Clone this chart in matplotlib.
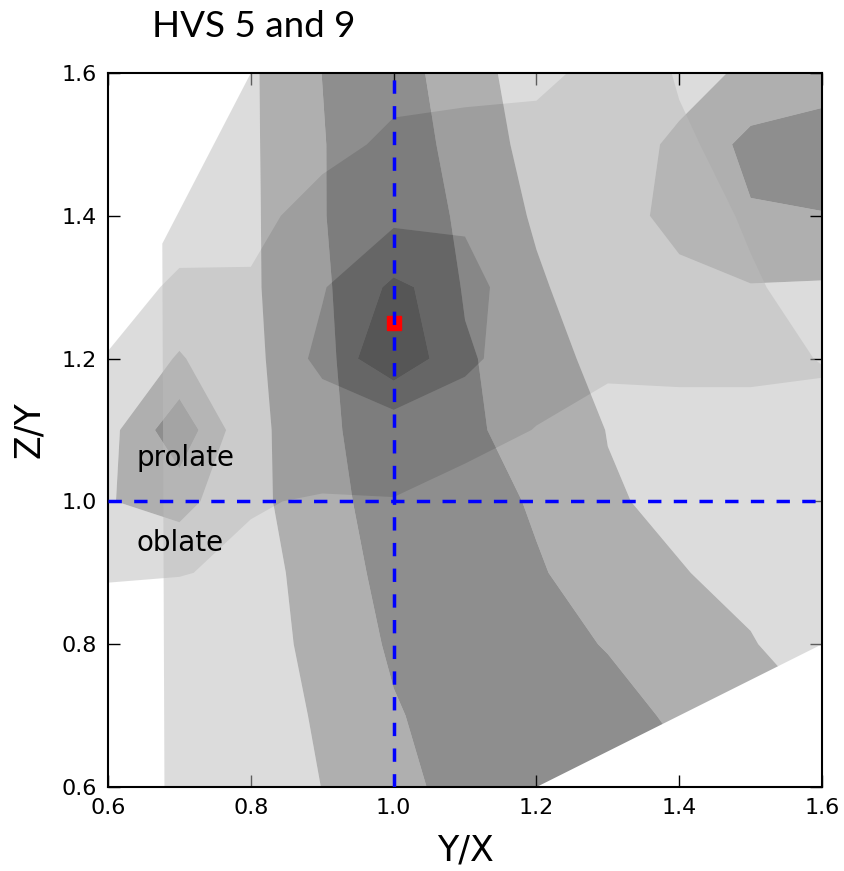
import numpy as np
import matplotlib.pyplot as plt
from matplotlib.patches import Polygon

plt.rcParams['lines.scale_dashes'] = False

# grid of the axis ratios
yx = np.round(np.arange(0.6, 1.61, 0.1), 2)
zy = np.round(np.arange(0.6, 1.61, 0.1), 2)

# HVS 5 density level, rows = Z/Y from 0.6 to 1.6, columns = Y/X from 0.6 to 1.6
hvs5 = np.array([
    [0.8, 0.9, 1.0, 1.51, 2.2, 2.85, 3.2, 3.1, 2.8, 2.3, 1.9],
    [0.8, 0.9, 1.1, 1.6, 2.4, 3.0, 3.2, 3.0, 2.27, 1.9, 1.5],
    [0.8, 0.9, 1.2, 1.7, 2.66, 3.1, 3.0, 2.42, 2.0, 1.56, 1.0],
    [0.8, 0.9, 1.25, 1.76, 2.95, 3.1, 2.6, 2.01, 1.55, 1.24, 1.0],
    [0.8, 0.9, 1.3, 1.945, 3.24, 3.0, 2.375, 1.6, 1.29, 1.1, 1.0],
    [0.8, 0.9, 1.2, 2.23, 3.19, 2.6, 2.28, 1.47, 1.2, 1.0, 0.9],
    [0.8, 0.9, 1.4, 1.88, 5.0, 2.7, 1.59, 1.43, 1.1, 0.8, 0.46],
    [0.8, 0.9, 1.4, 2.07, 5.14, 2.33, 1.6, 1.07, 0.85, 0.6, 0.15],
    [0.8, 0.9, 1.353, 2.4, 4.07, 2.08, 1.41, 1.1, 0.9, 0.39, 0.1],
    [0.8, 0.9, 1.36, 2.44, 3.5, 1.83, 1.31, 0.95, 0.6, 0.255, 0.0],
    [0.8, 1.0, 1.362, 2.51, 3.2, 1.61, 1.37, 1.0, 0.44, 0.2, 0.1],
])

# region covered by the HVS 5 sample
hull_x = [0.679, 0.676, 0.80, 1.6, 1.6, 1.2]
hull_y = [0.6, 1.361, 1.6, 1.6, 0.8, 0.6]

# HVS 9 density level, same layout
hvs9 = np.array([
    [0, 0, 0, 0, 0, 0, 0, 0, 0, 0, 0],
    [0, 0, 0, 0, 0, 0, 0, 0, 0, 0, 0],
    [0, 0, 0, 0, 0, 0, 0, 0, 0, 0, 0],
    [0.58, 0.53, 0.38, 0, 0, 0, 0, 0, 0, 0, 0],
    [1.45, 1.9, 0.54, 0.45, 0.48, 0.2, 0, 0, 0, 0, 0],
    [1.16, 3.2, 0.6, 0.9, 0.81, 0.766, 0.48, 0.2, 0.2, 0.2, 0.2],
    [0.56, 1.6, 0.55, 1.74, 3.26, 1.75, 0.8, 0.66, 0.7, 0.7, 0.61],
    [0, 0.685, 0.7, 1.424, 2.7, 2.0, 0.571, 1.0, 1.2, 1.45, 1.4],
    [0, 0, 0, 1.19, 1.257, 1.296, 0.8, 1.0, 1.85, 2.4, 2.45],
    [0, 0, 0, 0, 0.8, 0.8, 0.8, 1.1, 1.648, 2.8, 3.2],
    [0, 0, 0, 0, 0, 0.223, 0.31, 0.752, 1.2, 1.65, 1.83],
])

levels = [0.5, 1.5, 2.5, 100]
fill_colors = ['#bbbbbb', '#616161', '#1f1f1f']

best_yx = [1.0]
best_zy = [1.25]

fig = plt.figure(figsize=(8.44, 8.71), dpi=100)
ax = fig.add_axes([0.128, 0.0964, 0.846, 0.8198])

cs9 = ax.contourf(yx, zy, hvs9, levels=levels, colors=fill_colors, alpha=0.5,
                  antialiased=True, zorder=1)
cs5 = ax.contourf(yx, zy, hvs5, levels=levels, colors=fill_colors, alpha=0.5,
                  antialiased=True, zorder=2)
for cs in (cs9, cs5):
    cs.set_edgecolor('none')
    cs.set_linewidth(0)
hull = Polygon(np.column_stack([hull_x, hull_y]), closed=True,
               transform=ax.transData, facecolor='none', edgecolor='none')
cs5.set_clip_path(hull)

ax.plot(best_yx, best_zy, 's', color='red', mec='red', markersize=10, zorder=3)
ax.axvline(1.0, color='blue', lw=2.5, dashes=(9.6, 8.9), zorder=4)
ax.axhline(1.0, color='blue', lw=2.5, dashes=(9.6, 8.9), zorder=4)

ax.text(0.64, 1.05, 'prolate', fontsize=20, zorder=5)
ax.text(0.64, 0.93, 'oblate', fontsize=20, zorder=5)

ax.set_xlim(0.6, 1.6)
ax.set_ylim(0.6, 1.6)
ticks = [0.6, 0.8, 1.0, 1.2, 1.4, 1.6]
ax.set_xticks(ticks)
ax.set_yticks(ticks)
ax.set_xticklabels(['%.1f' % t for t in ticks])
ax.set_yticklabels(['%.1f' % t for t in ticks])
ax.tick_params(direction='in', length=8.5, width=1, top=True, right=True,
               labelsize=16, pad=8)
for s in ax.spines.values():
    s.set_linewidth(1.5)

ax.set_xlabel('Y/X', fontsize=25, labelpad=11)
ax.set_ylabel('Z/Y', fontsize=25, labelpad=11)

fig.text(0.18, 0.958, 'HVS 5 and 9', fontsize=26.5, family=['Lato', 'DejaVu Sans'])

fig.savefig('out.png', dpi=100)
